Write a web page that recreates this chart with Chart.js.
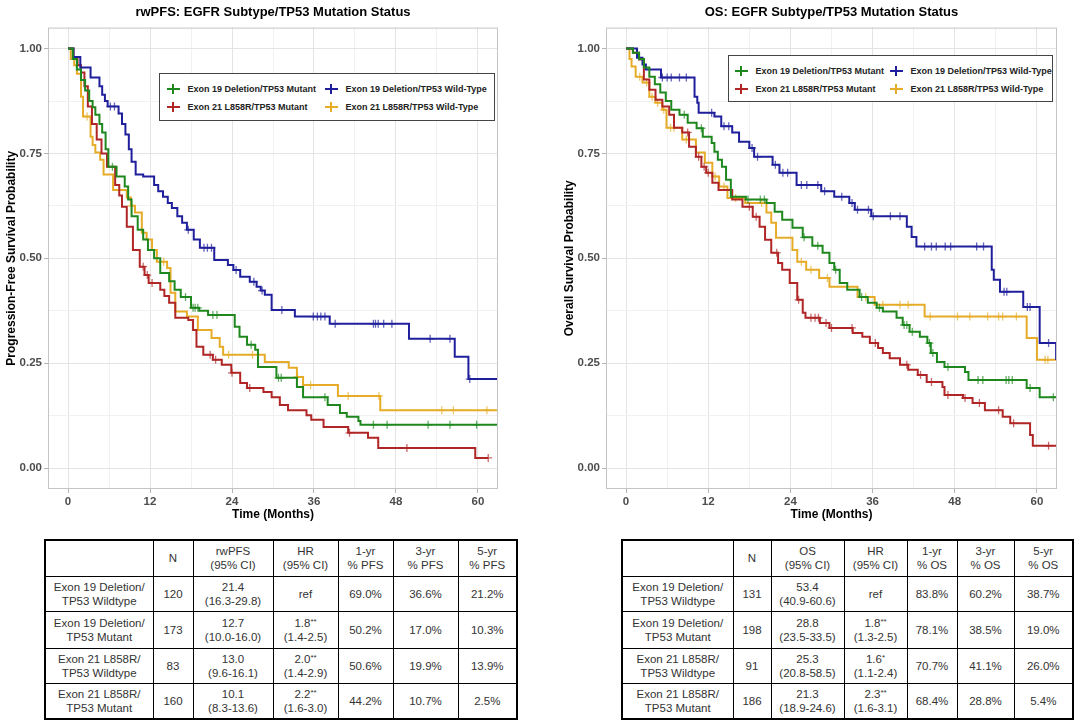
<!DOCTYPE html>
<html>
<head>
<meta charset="utf-8">
<script src="https://cdn.jsdelivr.net/npm/chart.js@4.4.1/dist/chart.umd.min.js"></script>
<style>
  body { margin: 0; width: 1080px; height: 722px; background: #fff; position: relative; overflow: hidden;
         font-family: "Liberation Sans", Arial, sans-serif; }
  .plot { position: absolute; top: 0; width: 540px; height: 530px; }
  .legend { position: absolute; border: 1.5px solid #444; box-sizing: border-box; background: #fff;
            display: grid; grid-template-rows: 18px 18px; padding-top: 5.5px;
            font-weight: bold; font-size: 9px; color: #222; }
  .item { display: flex; align-items: center; white-space: nowrap; }
  .glyph { position: relative; width: 13px; height: 10px; margin-right: 8px; flex: none; }
  .glyph i { position: absolute; display: block; }
  .glyph .h { left: 0; right: 0; top: 4px; height: 2px; }
  .glyph .v { left: 5.7px; width: 1.5px; top: 0; bottom: 0; }
  table { position: absolute; top: 539px; border-collapse: collapse; border: 2px solid #000;
          table-layout: fixed; font-size: 11.5px; color: #333; }
  td { border: 1.5px solid #000; text-align: center; vertical-align: middle; line-height: 14px;
       padding: 0; white-space: pre-line; }
  .st { font-size: 8px; vertical-align: 3px; }
</style>
</head>
<body>
<div class="plot" style="left:0"><canvas id="pfsChart"></canvas></div>
<div class="plot" style="left:540px"><canvas id="osChart"></canvas></div>
<div class="legend" id="pfsLegend" style="left:159px; top:73px; width:336px; height:48px; padding-left:6.5px; grid-template-columns:158px auto;"></div>
<div class="legend" id="osLegend" style="left:728px; top:55px; width:325px; height:47px; padding-left:5.5px; grid-template-columns:155px auto;"></div>
<table id="pfsTable" style="left:44px; width:472px"></table>
<table id="osTable" style="left:621px; width:451px"></table>

<script>
const FONT = '"Liberation Sans", Arial, sans-serif';
Chart.defaults.font.family = FONT;

const groups = ['Exon 19 Deletion/TP53 Mutant', 'Exon 19 Deletion/TP53 Wild-Type',
                'Exon 21 L858R/TP53 Mutant', 'Exon 21 L858R/TP53 Wild-Type'];
const colors = ['#1E881E', '#1F1F9C', '#B02525', '#E6AC27'];

const xTicks = [0, 6, 12, 18, 24, 30, 36, 42, 48, 54, 60];
const yTicks = [0, 0.125, 0.25, 0.375, 0.5, 0.625, 0.75, 0.875, 1];

// rwPFS curves: event times (months), survival after each drop, censor times
const pfsE19MutT = [0, 0.7, 1.3, 1.9, 2.5, 3.1, 3.6, 4.0, 4.6, 5.0, 5.5, 5.9, 7.1, 8.3, 8.8, 9.3, 10.2, 11.0, 11.7, 12.6, 13.5, 14.8, 15.6, 16.5, 18.0, 19.2, 20.5, 24.4, 25.1, 26.2, 27.4, 27.8, 30.5, 33.5, 34.4, 38.0, 39.8, 40.8, 42.5, 42.8];
const pfsE19MutS = [1.0, 0.975, 0.95, 0.925, 0.90, 0.875, 0.86, 0.842, 0.82, 0.80, 0.76, 0.718, 0.695, 0.671, 0.64, 0.60, 0.568, 0.545, 0.52, 0.50, 0.465, 0.445, 0.425, 0.408, 0.382, 0.375, 0.365, 0.337, 0.313, 0.294, 0.282, 0.241, 0.215, 0.193, 0.169, 0.150, 0.131, 0.122, 0.112, 0.103];
const pfsE19MutC = [6.5, 17.2, 18.3, 18.6, 19.0, 21.2, 21.8, 26.8, 30.8, 31.2, 37.6, 44.7, 46.7, 52.7, 55.9, 59.8];

const pfsE19WtT = [0, 0.8, 1.8, 3.3, 4.6, 5.0, 5.4, 5.8, 7.4, 7.9, 8.4, 8.9, 9.3, 9.9, 11.0, 12.6, 13.2, 13.9, 14.6, 15.2, 16.0, 16.7, 17.4, 18.4, 19.3, 21.4, 23.4, 24.2, 25.2, 26.6, 27.6, 28.2, 28.8, 29.8, 33.2, 38.3, 49.9, 56.6, 58.6];
const pfsE19WtS = [1.0, 0.98, 0.955, 0.931, 0.91, 0.89, 0.875, 0.862, 0.845, 0.82, 0.795, 0.76, 0.73, 0.70, 0.695, 0.675, 0.66, 0.647, 0.632, 0.62, 0.60, 0.585, 0.568, 0.545, 0.525, 0.496, 0.484, 0.472, 0.456, 0.444, 0.432, 0.423, 0.413, 0.377, 0.361, 0.344, 0.308, 0.265, 0.212];
const pfsE19WtC = [6.2, 6.8, 17.6, 19.9, 20.4, 21.0, 24.6, 27.2, 28.4, 31.3, 35.9, 36.5, 37.0, 37.6, 39.1, 44.7, 45.0, 45.4, 46.2, 47.4, 53.0, 55.9, 58.8];

const pfsE21MutT = [0, 0.8, 1.4, 1.9, 2.4, 2.9, 3.5, 4.2, 4.9, 5.7, 6.9, 7.5, 7.9, 8.6, 9.5, 10.5, 11.2, 11.8, 13.5, 14.1, 14.8, 15.7, 17.6, 18.3, 18.8, 19.8, 21.2, 22.5, 23.9, 25.2, 26.2, 28.6, 29.8, 31.0, 32.2, 34.9, 35.6, 37.4, 41.0, 43.9, 45.4, 59.6];
const pfsE21MutS = [1.0, 0.975, 0.96, 0.943, 0.91, 0.862, 0.82, 0.783, 0.75, 0.718, 0.675, 0.65, 0.623, 0.575, 0.52, 0.48, 0.46, 0.441, 0.425, 0.41, 0.394, 0.358, 0.353, 0.329, 0.289, 0.27, 0.258, 0.246, 0.227, 0.203, 0.191, 0.181, 0.169, 0.150, 0.138, 0.126, 0.115, 0.098, 0.084, 0.072, 0.048, 0.024];
const pfsE21MutC = [11.0, 11.6, 12.3, 20.8, 21.6, 24.0, 26.6, 41.2, 49.6, 61.5];

const pfsE21WtT = [0, 0.4, 0.9, 1.3, 1.9, 2.2, 3.3, 3.6, 4.0, 4.7, 5.2, 6.6, 8.6, 9.2, 9.8, 10.8, 11.5, 12.3, 13.0, 14.5, 15.0, 15.7, 17.4, 19.0, 21.0, 22.2, 22.7, 28.8, 32.3, 33.5, 34.4, 39.5, 45.7];
const pfsE21WtS = [1.0, 0.975, 0.96, 0.94, 0.885, 0.838, 0.79, 0.77, 0.752, 0.735, 0.70, 0.663, 0.645, 0.625, 0.609, 0.561, 0.545, 0.52, 0.492, 0.477, 0.418, 0.373, 0.361, 0.329, 0.31, 0.289, 0.27, 0.253, 0.239, 0.217, 0.198, 0.172, 0.138];
const pfsE21WtC = [2.8, 9.3, 14.0, 23.5, 27.0, 33.6, 35.5, 41.0, 45.5, 54.7, 56.4, 61.3];

// last follow-up per curve (month), same order as groups
const pfsEnd = [64, 64, 61.5, 64];

// OS curves
const osE19MutT = [0, 1.0, 1.9, 2.6, 3.4, 4.2, 5.0, 5.8, 6.6, 7.8, 9.0, 10.3, 11.2, 12.5, 12.9, 13.4, 14.0, 14.6, 15.3, 17.5, 20.5, 21.7, 22.8, 24.3, 25.8, 27.2, 28.7, 29.7, 30.4, 31.2, 32.3, 34.1, 35.3, 36.6, 37.5, 39.5, 40.4, 41.4, 42.9, 44.0, 44.5, 45.4, 46.5, 49.5, 50.0, 58.5, 60.4];
const osE19MutS = [1.0, 0.99, 0.975, 0.955, 0.933, 0.915, 0.895, 0.875, 0.854, 0.842, 0.823, 0.81, 0.79, 0.775, 0.754, 0.735, 0.718, 0.687, 0.647, 0.64, 0.632, 0.611, 0.592, 0.573, 0.55, 0.53, 0.513, 0.489, 0.473, 0.441, 0.425, 0.408, 0.394, 0.382, 0.373, 0.358, 0.341, 0.325, 0.313, 0.298, 0.274, 0.253, 0.241, 0.229, 0.21, 0.191, 0.169];
const osE19MutC = [8.5, 11.0, 17.8, 19.6, 20.2, 26.0, 28.0, 30.6, 34.4, 37.0, 40.6, 41.0, 41.8, 44.3, 44.8, 47.0, 51.4, 52.1, 55.5, 55.9, 56.4, 59.0, 62.4];

const osE19WtT = [0, 1.6, 2.4, 2.9, 5.1, 10.0, 10.4, 10.6, 12.9, 13.9, 15.5, 16.5, 18.0, 18.7, 21.4, 22.4, 24.9, 28.5, 30.4, 32.6, 33.4, 35.8, 41.0, 41.7, 42.4, 53.4, 53.7, 54.6, 58.0, 60.4, 62.8];
const osE19WtS = [1.0, 0.978, 0.962, 0.95, 0.931, 0.885, 0.871, 0.847, 0.838, 0.815, 0.80, 0.778, 0.763, 0.742, 0.723, 0.704, 0.675, 0.66, 0.647, 0.632, 0.616, 0.60, 0.575, 0.551, 0.528, 0.473, 0.449, 0.42, 0.384, 0.298, 0.26];
const osE19WtC = [5.3, 6.0, 6.6, 7.8, 8.8, 12.5, 14.3, 15.0, 18.4, 19.2, 21.8, 22.9, 23.6, 25.6, 26.4, 28.0, 29.0, 31.5, 33.0, 33.8, 35.4, 36.1, 38.6, 40.0, 43.6, 44.6, 45.3, 46.6, 47.4, 51.2, 52.2, 55.2, 55.6, 58.6, 59.0, 61.7];

const osE21MutT = [0, 1.0, 1.9, 2.6, 3.4, 4.3, 5.3, 6.3, 7.0, 8.2, 9.2, 10.2, 11.0, 11.7, 12.6, 13.5, 15.5, 17.0, 18.5, 19.5, 20.3, 21.2, 22.2, 22.8, 23.9, 25.0, 25.8, 26.2, 28.3, 29.7, 33.1, 34.5, 35.6, 36.8, 37.5, 38.5, 40.0, 41.2, 42.6, 43.9, 46.2, 46.5, 49.2, 50.6, 52.4, 55.0, 56.1, 59.0, 59.4];
const osE21MutS = [1.0, 0.99, 0.974, 0.926, 0.902, 0.878, 0.862, 0.842, 0.811, 0.80, 0.766, 0.742, 0.718, 0.704, 0.68, 0.663, 0.64, 0.623, 0.599, 0.575, 0.544, 0.513, 0.489, 0.473, 0.441, 0.401, 0.37, 0.358, 0.346, 0.334, 0.322, 0.313, 0.298, 0.286, 0.274, 0.262, 0.246, 0.234, 0.222, 0.205, 0.193, 0.174, 0.167, 0.155, 0.138, 0.122, 0.107, 0.079, 0.053];
const osE21MutC = [9.0, 10.6, 11.4, 12.0, 18.0, 19.0, 22.0, 25.2, 27.0, 27.6, 28.1, 29.2, 30.0, 33.0, 36.4, 41.0, 43.0, 44.6, 47.0, 49.5, 51.6, 54.4, 56.6, 61.7];

const osE21WtT = [0, 0.5, 0.8, 1.4, 2.4, 3.4, 4.3, 5.3, 5.9, 8.2, 10.2, 11.5, 12.6, 13.6, 14.8, 17.4, 20.5, 21.2, 21.9, 24.3, 25.0, 26.3, 28.2, 29.7, 33.8, 36.3, 43.6, 58.5, 60.0];
const osE21WtS = [1.0, 0.975, 0.957, 0.933, 0.919, 0.885, 0.871, 0.854, 0.811, 0.783, 0.752, 0.728, 0.695, 0.671, 0.644, 0.632, 0.609, 0.585, 0.549, 0.52, 0.492, 0.473, 0.453, 0.432, 0.408, 0.389, 0.361, 0.31, 0.258];
const osE21WtC = [2.0, 3.0, 3.8, 4.6, 5.5, 6.5, 7.0, 8.8, 13.0, 14.3, 16.0, 19.8, 25.6, 27.0, 29.4, 35.0, 37.5, 40.0, 41.2, 44.4, 48.4, 50.2, 52.8, 54.4, 55.0, 57.0, 61.2, 61.6];

const osEnd = [64, 64, 64, 64];

// summary tables
const rowNames = ['Exon 19 Deletion/\nTP53 Wildtype', 'Exon 19 Deletion/\nTP53 Mutant',
                  'Exon 21 L858R/\nTP53 Wildtype', 'Exon 21 L858R/\nTP53 Mutant'];
const pfsHead = ['', 'N', 'rwPFS\n(95% CI)', 'HR\n(95% CI)', '1-yr\n% PFS', '3-yr\n% PFS', '5-yr\n% PFS'];
const pfsN = ['120', '173', '83', '160'];
const pfsMedian = ['21.4\n(16.3-29.8)', '12.7\n(10.0-16.0)', '13.0\n(9.6-16.1)', '10.1\n(8.3-13.6)'];
const pfsHR = ['ref', '1.8**\n(1.4-2.5)', '2.0**\n(1.4-2.9)', '2.2**\n(1.6-3.0)'];
const pfs1yr = ['69.0%', '50.2%', '50.6%', '44.2%'];
const pfs3yr = ['36.6%', '17.0%', '19.9%', '10.7%'];
const pfs5yr = ['21.2%', '10.3%', '13.9%', '2.5%'];

const osHead = ['', 'N', 'OS\n(95% CI)', 'HR\n(95% CI)', '1-yr\n% OS', '3-yr\n% OS', '5-yr\n% OS'];
const osN = ['131', '198', '91', '186'];
const osMedian = ['53.4\n(40.9-60.6)', '28.8\n(23.5-33.5)', '25.3\n(20.8-58.5)', '21.3\n(18.9-24.6)'];
const osHR = ['ref', '1.8**\n(1.3-2.5)', '1.6*\n(1.1-2.4)', '2.3**\n(1.6-3.1)'];
const os1yr = ['83.8%', '78.1%', '70.7%', '68.4%'];
const os3yr = ['60.2%', '38.5%', '41.1%', '28.8%'];
const os5yr = ['38.7%', '19.0%', '26.0%', '5.4%'];

const rowHeights = [36, 35, 37, 35, 36];

function survAt(t, s, x) {
  let v = s[0];
  for (let i = 0; i < t.length; i++) if (t[i] <= x) v = s[i];
  return v;
}

const panelBorder = {
  id: 'panelBorder',
  afterDatasetsDraw(chart) {
    const {ctx, chartArea: a} = chart;
    ctx.save();
    ctx.strokeStyle = '#c4c4c4';
    ctx.lineWidth = 1;
    ctx.strokeRect(a.left + 0.5, a.top + 0.5, a.width - 1, a.height - 1);
    ctx.restore();
  }
};

function buildChart(id, title, yTitle, curves, ends, padLeft, padRight) {
  const datasets = [];
  curves.forEach((c, i) => {
    const pts = c[0].map((v, k) => ({x: v, y: c[1][k]}));
    pts.push({x: ends[i], y: c[1][c[1].length - 1]});
    datasets.push({
      data: pts, showLine: true, stepped: true, borderColor: colors[i],
      borderWidth: 2, pointRadius: 0, fill: false
    });
    datasets.push({
      data: c[2].map(v => ({x: v, y: survAt(c[0], c[1], v)})),
      showLine: false, pointStyle: 'cross', pointRadius: 4,
      borderColor: colors[i] + 'b0', borderWidth: 1.3
    });
  });

  const tickFont = {size: 11.5, weight: 'bold'};
  const axisFont = {size: 12, weight: 'bold'};

  return new Chart(document.getElementById(id), {
    type: 'scatter',
    data: {datasets},
    options: {
      responsive: true,
      maintainAspectRatio: false,
      animation: false,
      events: [],
      layout: {padding: {left: padLeft, right: padRight, top: 0, bottom: 8}},
      plugins: {
        legend: {display: false},
        tooltip: {enabled: false},
        title: {
          display: true, text: title, fullSize: false, color: '#000',
          font: {size: 13, weight: 'bold'}, padding: {top: 5, bottom: 7}
        }
      },
      scales: {
        x: {
          type: 'linear', min: -2.93, max: 62.93,
          afterBuildTicks: s => { s.ticks = xTicks.map(v => ({value: v})); },
          afterFit: s => { s.height = 33; },
          ticks: {
            autoSkip: false, maxRotation: 0, padding: 2, color: '#4d4d4d', font: tickFont,
            callback: v => (v % 12 === 0 ? String(v) : '')
          },
          grid: {
            color: c => (c.tick && c.tick.value % 12 === 0 ? '#e4e4e4' : '#f1f1f1'),
            tickLength: 4,
            tickColor: c => (c.tick && c.tick.value % 12 === 0 ? '#b3b3b3' : 'rgba(0,0,0,0)')
          },
          border: {display: false},
          title: {display: true, text: 'Time (Months)', color: '#000', font: axisFont, padding: 0}
        },
        y: {
          min: -0.05, max: 1.05,
          afterBuildTicks: s => { s.ticks = yTicks.map(v => ({value: v})); },
          afterFit: s => { s.width = 44; },
          ticks: {
            autoSkip: false, padding: 2, color: '#4d4d4d', font: tickFont,
            callback: v => ((v * 4) % 1 === 0 ? v.toFixed(2) : '')
          },
          grid: {
            color: c => (c.tick && (c.tick.value * 4) % 1 === 0 ? '#e4e4e4' : '#f1f1f1'),
            tickLength: 4,
            tickColor: c => (c.tick && (c.tick.value * 4) % 1 === 0 ? '#b3b3b3' : 'rgba(0,0,0,0)')
          },
          border: {display: false},
          title: {display: true, text: yTitle, color: '#000', font: axisFont, padding: 0}
        }
      }
    },
    plugins: [panelBorder]
  });
}

function buildLegend(id) {
  const box = document.getElementById(id);
  groups.forEach((g, i) => {
    const item = document.createElement('div');
    item.className = 'item';
    item.innerHTML = '<span class="glyph"><i class="h" style="background:' + colors[i] +
      '"></i><i class="v" style="background:' + colors[i] + '"></i></span>' + g;
    box.appendChild(item);
  });
}

function cellHtml(txt) {
  return txt.replace(/(\*+)/g, '<span class="st">$1</span>');
}

function buildTable(id, head, cols, widths) {
  const table = document.getElementById(id);
  const cg = document.createElement('colgroup');
  widths.forEach(w => { const c = document.createElement('col'); c.style.width = w + 'px'; cg.appendChild(c); });
  table.appendChild(cg);
  const rows = [head];
  for (let r = 0; r < rowNames.length; r++) rows.push([rowNames[r]].concat(cols.map(c => c[r])));
  rows.forEach((row, r) => {
    const tr = document.createElement('tr');
    tr.style.height = rowHeights[r] + 'px';
    row.forEach(v => {
      const td = document.createElement('td');
      td.innerHTML = cellHtml(v);
      tr.appendChild(td);
    });
    table.appendChild(tr);
  });
}

buildChart('pfsChart', 'rwPFS: EGFR Subtype/TP53 Mutation Status', 'Progression-Free Survival Probability',
  [[pfsE19MutT, pfsE19MutS, pfsE19MutC], [pfsE19WtT, pfsE19WtS, pfsE19WtC],
   [pfsE21MutT, pfsE21MutS, pfsE21MutC], [pfsE21WtT, pfsE21WtS, pfsE21WtC]], pfsEnd, 4, 42);

buildChart('osChart', 'OS: EGFR Subtype/TP53 Mutation Status', 'Overall Survival Probability',
  [[osE19MutT, osE19MutS, osE19MutC], [osE19WtT, osE19WtS, osE19WtC],
   [osE21MutT, osE21MutS, osE21MutC], [osE21WtT, osE21WtS, osE21WtC]], osEnd, 22, 23);

buildLegend('pfsLegend');
buildLegend('osLegend');

buildTable('pfsTable', pfsHead, [pfsN, pfsMedian, pfsHR, pfs1yr, pfs3yr, pfs5yr], [108, 40, 80, 65, 55, 65, 59]);
buildTable('osTable', osHead, [osN, osMedian, osHR, os1yr, os3yr, os5yr], [111, 38, 73, 63, 50, 57, 59]);
</script>
</body>
</html>
